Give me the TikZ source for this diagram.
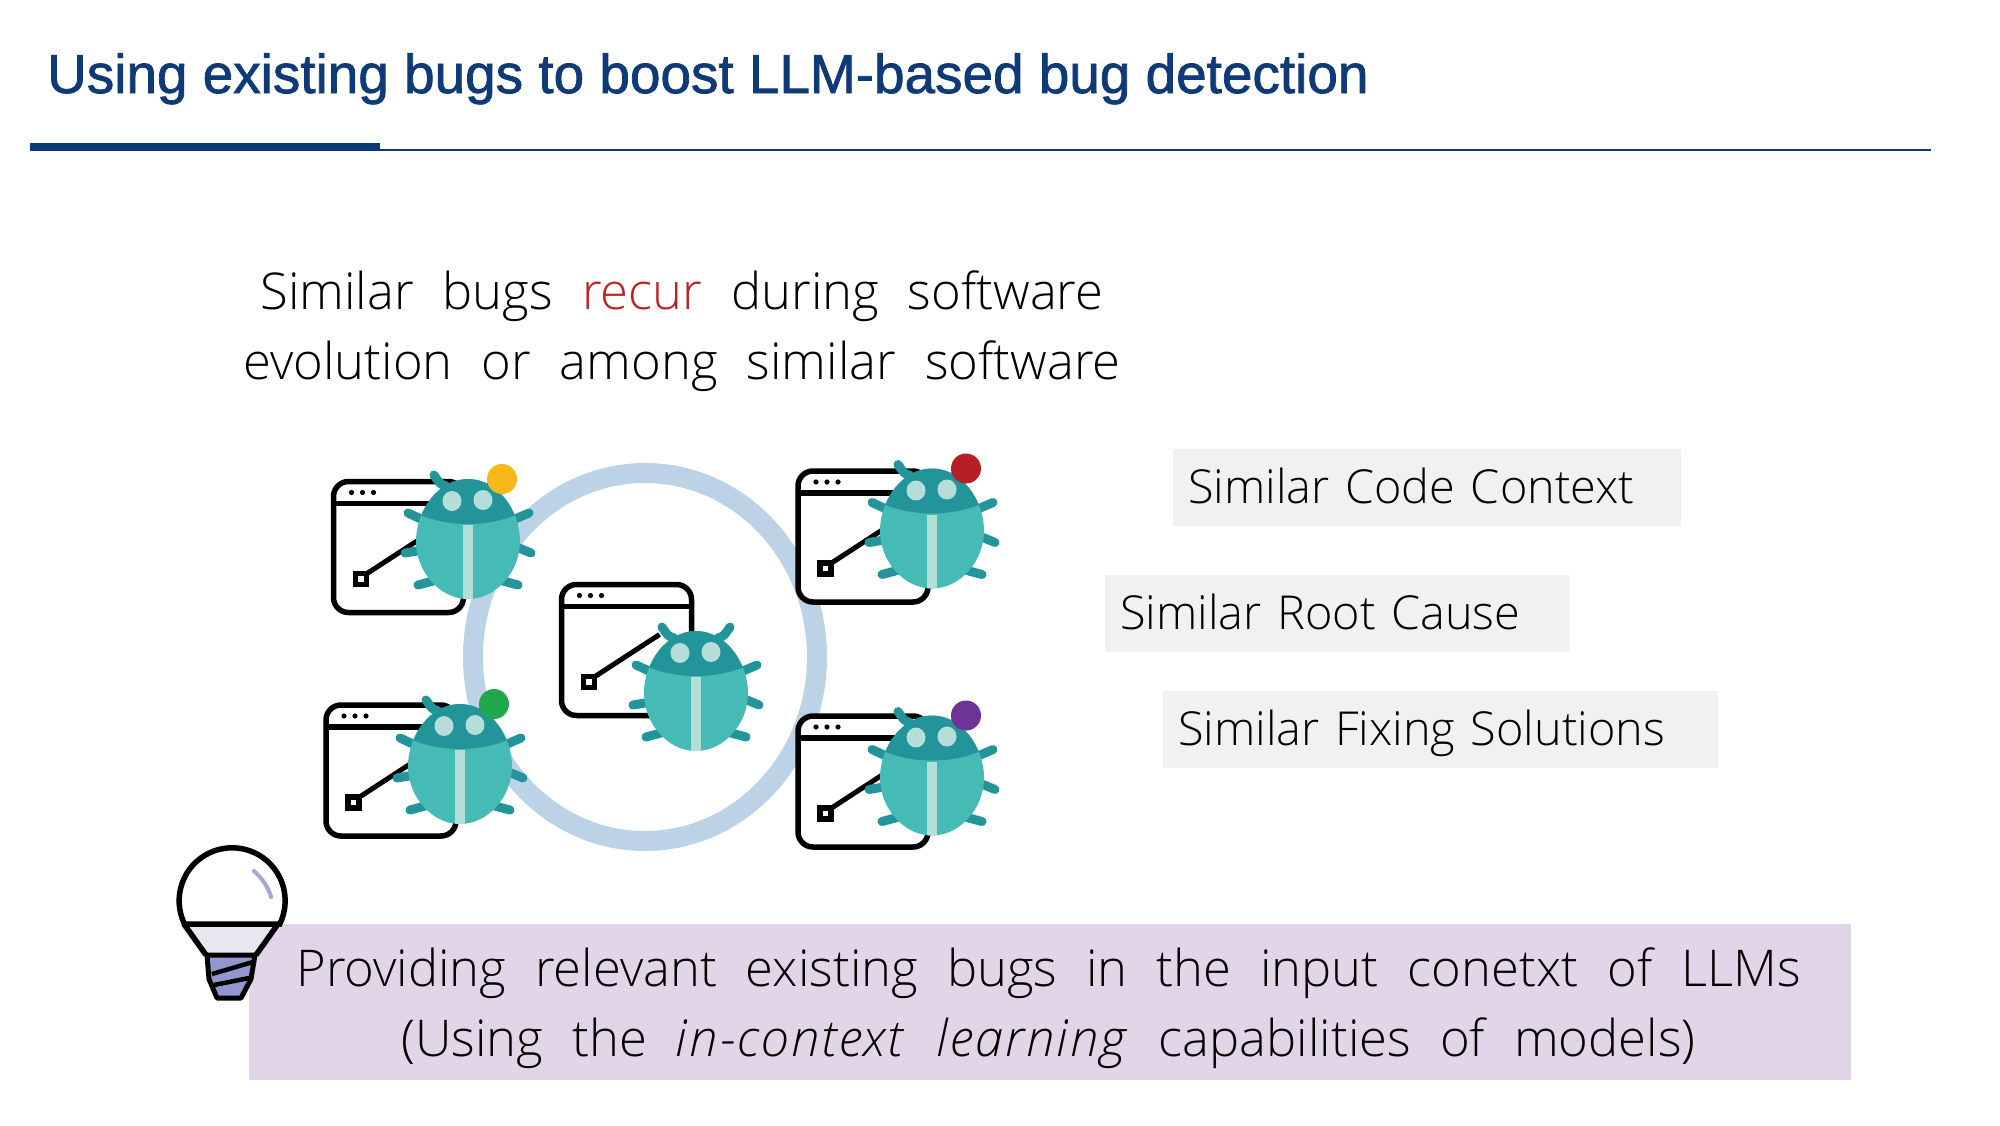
\documentclass[tikz,border=0pt]{standalone}
\usepackage{fontspec}
\setmainfont{Liberation Sans}
\newfontfamily\bodyfont{Open Sans Light}[WordSpace=2.2]
\newfontfamily\titlefont{Liberation Sans}[FakeBold=1.4]
\usetikzlibrary{positioning}
\definecolor{titleblue}{HTML}{0F3A78}
\definecolor{ringblue}{HTML}{BBD2E7}
\definecolor{bugdark}{HTML}{23949A}
\definecolor{buglight}{HTML}{46BBB5}
\definecolor{bugpale}{HTML}{B5DED9}
\definecolor{labelgray}{HTML}{F2F1EF}
\definecolor{hintpurple}{HTML}{E1D5E7}
\definecolor{recurred}{HTML}{BF2020}
\definecolor{bulbbase}{HTML}{9396CF}
\definecolor{bulbneck}{HTML}{E8E7EF}
\definecolor{dotyellow}{HTML}{F7B91A}
\definecolor{dotred}{HTML}{B71F24}
\definecolor{dotgreen}{HTML}{22A84C}
\definecolor{dotpurple}{HTML}{6C3595}
\tikzset{
	bodytext/.style = {font = \bodyfont\fontsize{50.7}{70}\selectfont, align = center, inner sep = 0pt},
	labelbox/.style = {fill = labelgray, anchor = north west, minimum height = 77pt, inner xsep = 15pt, inner ysep = 0pt, text height = 40pt, text depth = 9pt, align = left, font = \bodyfont\fontsize{46.8}{50}\selectfont},
	bugleg/.style = {draw = bugdark, line width = 9pt, line cap = round}
}
\newcommand{\windowicon}{\draw[line width = 5.5pt, fill = white, rounded corners = 15pt] (0,0) rectangle (130,131);
	\draw[line width = 5.5pt] (0,22) -- (130,22);
	\fill (18,11) circle (2.6pt);
	\fill (29,11) circle (2.6pt);
	\fill (40,11) circle (2.6pt);
	\draw[line width = 5pt] (32,93) -- (98,50);
	\draw[line width = 5.5pt, fill = white] (22,92) rectangle (33,103);}
\newcommand{\bugicon}{\draw[bugleg] (-22,-53) .. controls (-28,-55) .. (-34,-64);
	\draw[bugleg] (22,-53) .. controls (28,-55) .. (34,-64);
	\draw[bugleg] (-47,-20) -- (-60,-26);
	\draw[bugleg] (47,-20) -- (61,-26);
	\draw[bugleg] (-51,12) -- (-63,14);
	\draw[bugleg] (51,9) -- (63,14);
	\draw[bugleg] (-35,42) -- (-50,46);
	\draw[bugleg] (35,42) -- (50,46);
	\begin{scope}
		\clip (0,-60) .. controls (30,-60) and (52,-28) .. (52,2) .. controls (52,33) and (28,60) .. (0,60) .. controls (-28,60) and (-52,33) .. (-52,2) .. controls (-52,-28) and (-30,-60) .. (0,-60) -- cycle;
		\fill[buglight] (-60,-65) rectangle (60,65);
		\fill[bugdark] (-60,-65) -- (-60,-30) .. controls (-25,-10) and (25,-10) .. (60,-30) -- (60,-65) -- cycle;
		\fill[bugpale] (-5,-14) rectangle (5,65);
	\end{scope}
	\fill[bugpale] (-16,-38) ellipse [x radius = 9.5pt, y radius = 10pt];
	\fill[bugpale] (15,-39) ellipse [x radius = 9.5pt, y radius = 10pt];}
\newcommand{\bulbicon}{\fill[bulbneck] (-52,23) -- (52,23) -- (25,55) -- (-28,55) -- cycle;
	\draw[line width = 5.5pt, fill = white] (-46.5,23) arc [start angle = 206, end angle = -26, radius = 53pt] -- cycle;
	\draw[line width = 5.5pt] (-47,23) -- (-25,54);
	\draw[line width = 5.5pt] (47,23) -- (25,54);
	\draw[line width = 5pt, fill = bulbbase, line join = round] (-24,54) -- (24,54) -- (20,78) -- (10,97) -- (-14,97) -- (-22,78) -- cycle;
	\draw[line width = 4.5pt] (-19,73) -- (22,61);
	\draw[line width = 4.5pt] (-17,84) -- (18,77);
	\draw[bulbbase!85, line width = 4pt, line cap = round] (23,-30) .. controls (32,-22) and (38,-12) .. (40,-4);}

\begin{document}
\begin{tikzpicture}[x = 1pt, y = -1pt]
	\useasboundingbox (0,0) rectangle (2000,1125);

	\node (title) [anchor = base west, inner sep = 0pt, text = titleblue, font = \titlefont\fontsize{54.9}{60}\selectfont] at (47,93) {Using existing bugs to boost LLM-based bug detection};
	\fill[titleblue] (30,143) rectangle (380,151);
	\fill[titleblue] (380,149.2) rectangle (1931,151.2);

	\node (intro) [bodytext] at (682,331) {Similar bugs \textcolor{recurred}{recur} during software\\evolution or among similar software};

	\draw[ringblue, line width = 20pt] (645,657) ellipse [x radius = 172pt, y radius = 184pt];

	\begin{scope}[xshift = 333.5pt, yshift = -481.5pt]
		\windowicon
	\end{scope}
	\begin{scope}[xshift = 468pt, yshift = -539pt]
		\bugicon
		\fill[dotyellow] (34,-60) circle (15pt);
	\end{scope}

	\begin{scope}[xshift = 798pt, yshift = -471pt]
		\windowicon
	\end{scope}
	\begin{scope}[xshift = 932pt, yshift = -528.5pt]
		\bugicon
		\fill[dotred] (34,-60) circle (15pt);
	\end{scope}

	\begin{scope}[xshift = 326pt, yshift = -705pt]
		\windowicon
	\end{scope}
	\begin{scope}[xshift = 460pt, yshift = -764pt]
		\bugicon
		\fill[dotgreen] (34,-60) circle (15pt);
	\end{scope}

	\begin{scope}[xshift = 798pt, yshift = -716pt]
		\windowicon
	\end{scope}
	\begin{scope}[xshift = 932pt, yshift = -775.5pt]
		\bugicon
		\fill[dotpurple] (34,-60) circle (15pt);
	\end{scope}

	\begin{scope}[xshift = 561.5pt, yshift = -584.5pt]
		\windowicon
	\end{scope}
	\begin{scope}[xshift = 696pt, yshift = -691pt]
		\bugicon
	\end{scope}

	\node (codelabel) [labelbox, text width = 478pt] at (1173,449) {Similar Code Context};
	\node (causelabel) [labelbox, text width = 435pt] at (1105,575) {Similar Root Cause};
	\node (fixlabel) [labelbox, text width = 525pt] at (1163,691) {Similar Fixing Solutions};

	\fill[hintpurple] (249,924) rectangle (1851,1080);
	\node (hint) [bodytext] at (1048.5,1008) {Providing relevant existing bugs in the input conetxt of LLMs\\(Using the \textit{\addfontfeature{LetterSpace=4}in-context learning} capabilities of models)};

	\begin{scope}[xshift = 231pt, yshift = -901pt]
		\bulbicon
	\end{scope}
\end{tikzpicture}
\end{document}
